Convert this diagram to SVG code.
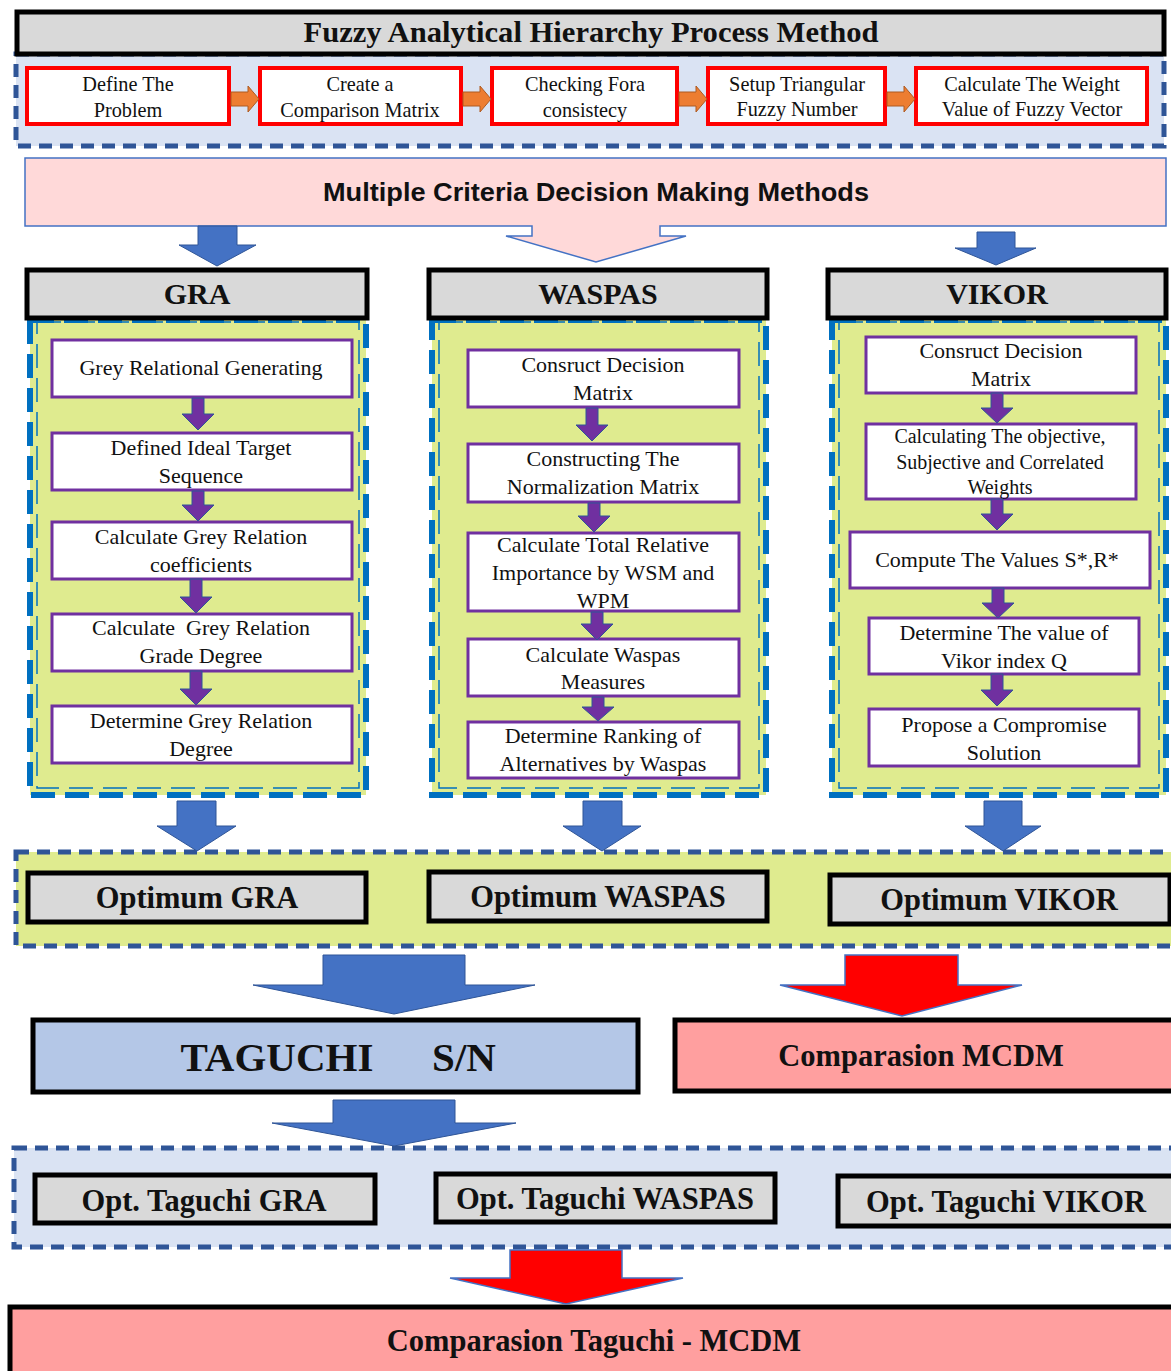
<svg xmlns="http://www.w3.org/2000/svg" width="1171" height="1371" viewBox="0 0 1171 1371">
<style>
.hdr{fill:#d9d9d9;stroke:#000;stroke-width:5}
.red{fill:#fff;stroke:#ff0000;stroke-width:4}
.pbox{fill:#fff;stroke:#7030a0;stroke-width:3}
.panel{fill:#dfeb8f}
.pdash{fill:none;stroke:#0070c0;stroke-width:6;stroke-dasharray:24 10}
.pdash2{fill:none;stroke:#0070c0;stroke-width:1.5;stroke-dasharray:24 10}
.cdash{stroke:#2f5597;stroke-width:5;stroke-dasharray:13 8}
.sr{font-family:"Liberation Serif","Times New Roman",serif;fill:#111;text-anchor:middle}
.t19{font-size:20.3px}
.t20{font-size:22px}
.b{font-weight:bold}
.parr{fill:#7030a0;stroke:#2f5597;stroke-width:1}
.barr{fill:#4472c4;stroke:#2f5597;stroke-width:1}
.rarr{fill:#ff0000;stroke:#4472c4;stroke-width:1.5}
.oarr{fill:#ed7d31;stroke:#ae5a21;stroke-width:1}
</style>

<!-- Fuzzy AHP section -->
<g id="fahp-container">
  <rect x="16" y="54" width="1148" height="92" fill="#dae3f3" class="cdash"/>
</g>
<g id="fahp-title">
  <rect x="17" y="12" width="1147" height="42" class="hdr"/>
  <text x="591" y="42" class="sr b" font-size="29" textLength="575" lengthAdjust="spacingAndGlyphs">Fuzzy Analytical Hierarchy Process Method</text>
</g>
<g id="step1">
  <rect x="27" y="68" width="202" height="56" class="red"/>
  <text x="128" y="91" class="sr t19">Define The</text>
  <text x="128" y="117" class="sr t19">Problem</text>
</g>
<g id="step2">
  <rect x="260" y="68" width="201" height="56" class="red"/>
  <text x="360" y="91" class="sr t19">Create a</text>
  <text x="360" y="117" class="sr t19">Comparison Matrix</text>
</g>
<g id="step3">
  <rect x="492" y="68" width="185" height="56" class="red"/>
  <text x="585" y="91" class="sr t19">Checking Fora</text>
  <text x="585" y="117" class="sr t19">consistecy</text>
</g>
<g id="step4">
  <rect x="708" y="68" width="177" height="56" class="red"/>
  <text x="797" y="91" class="sr t19">Setup Triangular</text>
  <text x="797" y="116" class="sr t19">Fuzzy Number</text>
</g>
<g id="step5">
  <rect x="916" y="68" width="231" height="56" class="red"/>
  <text x="1032" y="91" class="sr t19">Calculate The Weight</text>
  <text x="1032" y="116" class="sr t19">Value of Fuzzy Vector</text>
</g>

<!-- MCDM banner -->
<g id="mcdm">
  <path d="M25,158 H1166 V226 H660 V236 H686 L596,262 L506,236 H532 V226 H25 Z" fill="#ffd9d9" stroke="#4472c4" stroke-width="1.5"/>
  <text x="596" y="201" font-family="'Liberation Sans',Arial,sans-serif" font-weight="bold" font-size="25" fill="#111" text-anchor="middle" textLength="546" lengthAdjust="spacingAndGlyphs">Multiple Criteria Decision Making Methods</text>
</g>

<!-- Panels -->
<g id="gra-panel">
  <rect x="30" y="320" width="336" height="475" class="panel"/>
  <rect x="30" y="320" width="336" height="475" class="pdash"/>
  <rect x="37" y="322" width="322" height="466" class="pdash2"/>
</g>
<g id="waspas-panel">
  <rect x="432" y="320" width="334" height="475" class="panel"/>
  <rect x="432" y="320" width="334" height="475" class="pdash"/>
  <rect x="439" y="322" width="320" height="466" class="pdash2"/>
</g>
<g id="vikor-panel">
  <rect x="832" y="320" width="334" height="475" class="panel"/>
  <rect x="832" y="320" width="334" height="475" class="pdash"/>
  <rect x="839" y="322" width="320" height="466" class="pdash2"/>
</g>

<g id="gra-header">
  <rect x="27" y="270" width="340" height="48" class="hdr"/>
  <text x="197" y="304" class="sr b" font-size="30">GRA</text>
</g>
<g id="waspas-header">
  <rect x="429" y="270" width="338" height="48" class="hdr"/>
  <text x="598" y="304" class="sr b" font-size="30">WASPAS</text>
</g>
<g id="vikor-header">
  <rect x="828" y="270" width="338" height="48" class="hdr"/>
  <text x="997" y="304" class="sr b" font-size="30">VIKOR</text>
</g>

<!-- GRA steps -->
<g id="gra1"><rect x="52" y="340" width="300" height="57" class="pbox"/><text x="201" y="375" class="sr t20">Grey Relational Generating</text></g>
<g id="gra2"><rect x="52" y="433" width="300" height="57" class="pbox"/><text x="201" y="455" class="sr t20">Defined Ideal Target</text><text x="201" y="483" class="sr t20">Sequence</text></g>
<g id="gra3"><rect x="52" y="522" width="300" height="57" class="pbox"/><text x="201" y="544" class="sr t20">Calculate Grey Relation</text><text x="201" y="572" class="sr t20">coefficients</text></g>
<g id="gra4"><rect x="52" y="614" width="300" height="57" class="pbox"/><text x="201" y="635" class="sr t20" xml:space="preserve">Calculate  Grey Relation</text><text x="201" y="663" class="sr t20">Grade Degree</text></g>
<g id="gra5"><rect x="52" y="706" width="300" height="57" class="pbox"/><text x="201" y="728" class="sr t20">Determine Grey Relation</text><text x="201" y="756" class="sr t20">Degree</text></g>

<!-- WASPAS steps -->
<g id="was1"><rect x="468" y="350" width="271" height="57" class="pbox"/><text x="603" y="372" class="sr t20">Consruct Decision</text><text x="603" y="400" class="sr t20">Matrix</text></g>
<g id="was2"><rect x="468" y="444" width="271" height="58" class="pbox"/><text x="603" y="466" class="sr t20">Constructing The</text><text x="603" y="494" class="sr t20">Normalization Matrix</text></g>
<g id="was3"><rect x="468" y="533" width="271" height="78" class="pbox"/><text x="603" y="552" class="sr t20">Calculate Total Relative</text><text x="603" y="580" class="sr t20">Importance by WSM and</text><text x="603" y="608" class="sr t20">WPM</text></g>
<g id="was4"><rect x="468" y="639" width="271" height="57" class="pbox"/><text x="603" y="662" class="sr t20">Calculate Waspas</text><text x="603" y="689" class="sr t20">Measures</text></g>
<g id="was5"><rect x="468" y="722" width="271" height="56" class="pbox"/><text x="603" y="743" class="sr t20">Determine Ranking of</text><text x="603" y="771" class="sr t20">Alternatives by Waspas</text></g>

<!-- VIKOR steps -->
<g id="vik1"><rect x="866" y="337" width="270" height="56" class="pbox"/><text x="1001" y="358" class="sr t20">Consruct Decision</text><text x="1001" y="386" class="sr t20">Matrix</text></g>
<g id="vik2"><rect x="866" y="424" width="270" height="75" class="pbox"/><text x="1000" y="443" class="sr" font-size="20">Calculating The objective,</text><text x="1000" y="469" class="sr" font-size="20">Subjective and Correlated</text><text x="1000" y="494" class="sr" font-size="20">Weights</text></g>
<g id="vik3"><rect x="850" y="532" width="300" height="56" class="pbox"/><text x="997" y="567" class="sr t20">Compute The Values S*,R*</text></g>
<g id="vik4"><rect x="869" y="618" width="270" height="56" class="pbox"/><text x="1004" y="640" class="sr t20">Determine The value of</text><text x="1004" y="668" class="sr t20">Vikor index Q</text></g>
<g id="vik5"><rect x="869" y="709" width="270" height="57" class="pbox"/><text x="1004" y="732" class="sr t20">Propose a Compromise</text><text x="1004" y="760" class="sr t20">Solution</text></g>

<!-- Optimum section -->
<g id="optimum-container">
  <rect x="16" y="852" width="1160" height="94" fill="#dfeb8f" class="cdash"/>
</g>
<g id="opt-gra"><rect x="28" y="873" width="338" height="49" class="hdr"/><text x="197" y="908" class="sr b" font-size="30.5">Optimum GRA</text></g>
<g id="opt-waspas"><rect x="429" y="872" width="338" height="49" class="hdr"/><text x="598" y="907" class="sr b" font-size="30.5">Optimum WASPAS</text></g>
<g id="opt-vikor"><rect x="830" y="875" width="340" height="49" class="hdr"/><text x="999" y="910" class="sr b" font-size="30.5">Optimum VIKOR</text></g>

<g id="taguchi">
  <rect x="33" y="1020" width="605" height="72" fill="#b4c7e7" stroke="#000" stroke-width="5"/>
  <text x="277" y="1071" class="sr b" font-size="41">TAGUCHI</text>
  <text x="464" y="1071" class="sr b" font-size="41">S/N</text>
</g>
<g id="comp-mcdm">
  <rect x="675" y="1020" width="500" height="71" fill="#ff9f9f" stroke="#000" stroke-width="5"/>
  <text x="921" y="1066" class="sr b" font-size="30.5">Comparasion MCDM</text>
</g>

<!-- Opt Taguchi section -->
<g id="opt-taguchi-container">
  <rect x="14" y="1148" width="1162" height="99" fill="#dae3f3" class="cdash"/>
</g>
<g id="ot-gra"><rect x="35" y="1175" width="340" height="48" class="hdr"/><text x="204" y="1211" class="sr b" font-size="30.5">Opt. Taguchi GRA</text></g>
<g id="ot-waspas"><rect x="436" y="1174" width="339" height="48" class="hdr"/><text x="605" y="1209" class="sr b" font-size="30.5">Opt. Taguchi WASPAS</text></g>
<g id="ot-vikor"><rect x="838" y="1176" width="338" height="50" class="hdr"/><text x="1006" y="1212" class="sr b" font-size="30.5">Opt. Taguchi VIKOR</text></g>

<g id="comp-tag-mcdm">
  <rect x="10" y="1307" width="1166" height="70" fill="#ff9f9f" stroke="#000" stroke-width="5"/>
  <text x="594" y="1351" class="sr b" font-size="30.5">Comparasion Taguchi - MCDM</text>
</g>

<!-- Connectors -->
<g id="connectors">
  <polygon class="oarr" points="231,92 248,92 248,86 259,99 248,112 248,106 231,106"/>
  <polygon class="oarr" points="463,92 480,92 480,86 491,99 480,112 480,106 463,106"/>
  <polygon class="oarr" points="679,92 696,92 696,86 707,99 696,112 696,106 679,106"/>
  <polygon class="oarr" points="887,92 904,92 904,86 915,99 904,112 904,106 887,106"/>
  <polygon class="barr" points="198,226 237,226 237,245 256,245 217,266 179,245 198,245"/>
  <polygon class="barr" points="977,232 1015,232 1015,248 1036,248 996,265 955,248 977,248"/>
  <polygon class="parr" points="192,398 204,398 204,414 214,414 198,430 182,414 192,414"/>
  <polygon class="parr" points="192,491 204,491 204,505 214,505 198,521 182,505 192,505"/>
  <polygon class="parr" points="190,579 202,579 202,597 212,597 196,613 180,597 190,597"/>
  <polygon class="parr" points="190,671 202,671 202,689 212,689 196,705 180,689 190,689"/>
  <polygon class="parr" points="586,408 598,408 598,425 608,425 592,441 576,425 586,425"/>
  <polygon class="parr" points="588,503 600,503 600,516 610,516 594,532 578,516 588,516"/>
  <polygon class="parr" points="591,612 603,612 603,624 613,624 597,640 581,624 591,624"/>
  <polygon class="parr" points="592,697 604,697 604,707 614,707 598,721 582,707 592,707"/>
  <polygon class="parr" points="991,393 1003,393 1003,408 1013,408 997,423 981,408 991,408"/>
  <polygon class="parr" points="991,499 1003,499 1003,514 1013,514 997,530 981,514 991,514"/>
  <polygon class="parr" points="992,588 1004,588 1004,603 1014,603 998,618 982,603 992,603"/>
  <polygon class="parr" points="991,674 1003,674 1003,690 1013,690 997,706 981,690 991,690"/>
  <polygon class="barr" points="177,801 216,801 216,826 236,826 197,851 157,826 177,826"/>
  <polygon class="barr" points="583,801 622,801 622,826 641,826 602,851 563,826 583,826"/>
  <polygon class="barr" points="984,801 1022,801 1022,826 1041,826 1003,851 965,826 984,826"/>
  <polygon class="barr" points="323,955 465,955 465,985 535,985 394,1014 253,985 323,985"/>
  <polygon class="rarr" points="845,955 958,955 958,985 1022,985 902,1016 780,985 845,985"/>
  <polygon class="barr" points="333,1100 455,1100 455,1123 516,1123 394,1146 272,1123 333,1123"/>
  <polygon class="rarr" points="510,1250 622,1250 622,1278 683,1278 566,1304 450,1278 510,1278"/>
</g>
</svg>
